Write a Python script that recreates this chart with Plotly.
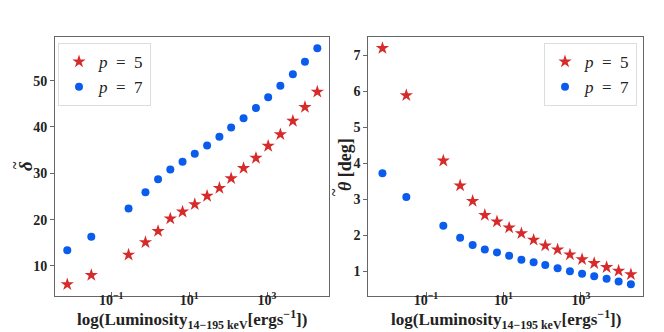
import plotly.graph_objects as go

# Data
lum = [0.0075, 0.031, 0.28, 0.76, 1.6, 3.3, 6.8, 14, 29, 60, 120, 250, 520, 1070, 2200, 4600, 9400, 19500]
delta_p5 = [6.0, 8.0, 12.4, 15.1, 17.5, 20.2, 21.7, 23.3, 25.1, 26.8, 28.9, 31.1, 33.3, 35.9, 38.4, 41.3, 44.3, 47.6]
delta_p7 = [13.4, 16.3, 22.4, 25.9, 28.7, 30.8, 32.5, 34.2, 36.0, 37.9, 39.9, 41.9, 44.1, 46.4, 48.9, 51.4, 54.1, 57.0]
theta_p5 = [7.20, 5.89, 4.07, 3.38, 2.95, 2.56, 2.38, 2.21, 2.05, 1.87, 1.71, 1.60, 1.46, 1.33, 1.22, 1.11, 1.01, 0.91]
theta_p7 = [3.72, 3.06, 2.26, 1.93, 1.73, 1.60, 1.52, 1.43, 1.32, 1.25, 1.17, 1.08, 1.00, 0.93, 0.86, 0.79, 0.71, 0.64]
xtick_vals = [0.1, 10, 1000]
xtick_text = ["<b>10<sup>−1</sup></b>", "<b>10<sup>1</sup></b>", "<b>10<sup>3</sup></b>"]
ytick_left = [10, 20, 30, 40, 50]
ytick_right = [1, 2, 3, 4, 5, 6, 7]
series_names = ["<i>p</i>  =  5", "<i>p</i>  =  7"]

RED = "#d62b2b"
BLUE = "#0a5cec"
FONT = "Liberation Serif"
W, H = 664, 332

def px(x):
    return x / W

def py(y):
    return 1 - y / H

fig = go.Figure()
fig.add_trace(go.Scatter(x=lum, y=delta_p5, mode="markers", name=series_names[0],
                         marker=dict(symbol="star", size=10, color=RED),
                         xaxis="x", yaxis="y", legend="legend"))
fig.add_trace(go.Scatter(x=lum, y=delta_p7, mode="markers", name=series_names[1],
                         marker=dict(symbol="circle", size=8, color=BLUE),
                         xaxis="x", yaxis="y", legend="legend"))
fig.add_trace(go.Scatter(x=lum, y=theta_p5, mode="markers", name=series_names[0],
                         marker=dict(symbol="star", size=10, color=RED),
                         xaxis="x2", yaxis="y2", legend="legend2"))
fig.add_trace(go.Scatter(x=lum, y=theta_p7, mode="markers", name=series_names[1],
                         marker=dict(symbol="circle", size=8, color=BLUE),
                         xaxis="x2", yaxis="y2", legend="legend2"))

ydom = [py(288), py(28.7)]
axis_common = dict(showline=True, linecolor="#666666", linewidth=1, mirror=True,
                   showgrid=False, zeroline=False,
                   tickfont=dict(family=FONT, size=14, color="#222222"),
                   ticklen=4, tickcolor="#666666")

fig.update_layout(
    width=W, height=H, margin=dict(l=0, r=0, t=0, b=0),
    paper_bgcolor="white", plot_bgcolor="white",
    font=dict(family=FONT, color="#222222"),
    xaxis=dict(domain=[px(47), px(321)], anchor="y", type="log", range=[-2.44, 4.59],
               tickvals=xtick_vals, ticktext=xtick_text, ticks="inside",
               ticklabelstandoff=-9, **axis_common),
    yaxis=dict(domain=ydom, anchor="x", range=[3.5, 59.5], tickvals=ytick_left,
               ticktext=["<b>%d</b>" % v for v in ytick_left],
               ticks="outside", **axis_common),
    xaxis2=dict(domain=[px(360.3), px(635.3)], anchor="y2", type="log", range=[-2.49, 4.61],
                tickvals=xtick_vals, ticktext=xtick_text, ticks="inside",
                ticklabelstandoff=-9, **axis_common),
    yaxis2=dict(domain=ydom, anchor="x2", range=[0.31, 7.52], tickvals=ytick_right,
                ticktext=["<b>%d</b>" % v for v in ytick_right],
                ticks="outside", **axis_common),
    legend=dict(x=px(50), y=py(35), xanchor="left", yanchor="top",
                bgcolor="white", bordercolor="#dddddd", borderwidth=1,
                font=dict(family=FONT, size=17, color="#222222"),
                itemwidth=30, tracegroupgap=0),
    legend2=dict(x=px(629), y=py(35), xanchor="right", yanchor="top",
                 bgcolor="white", bordercolor="#dddddd", borderwidth=1,
                 font=dict(family=FONT, size=17, color="#222222"),
                 itemwidth=30, tracegroupgap=0),
    showlegend=True,
)

xlabel = "<b>log(Luminosity<sub>14−195 keV</sub>[ergs<sup>−1</sup>])</b>"
for cx in (184, 497.5):
    fig.add_annotation(xref="paper", yref="paper", showarrow=False,
                       x=px(cx), y=py(311), text=xlabel,
                       xanchor="center", yanchor="middle",
                       font=dict(family=FONT, size=17, color="#222222"))

lab_font = dict(family=FONT, size=19, color="#222222")
# left y label: delta with tilde
fig.add_annotation(xref="paper", yref="paper", x=px(18), y=py(158), showarrow=False,
                   text="<b><i>δ</i></b>", textangle=-90, xanchor="center", yanchor="middle",
                   font=lab_font)
fig.add_annotation(xref="paper", yref="paper", x=px(7), y=py(157), showarrow=False,
                   text="<b>~</b>", textangle=-90, xanchor="center", yanchor="middle",
                   font=dict(family=FONT, size=14, color="#222222"))
# right y label: theta with tilde [deg]
fig.add_annotation(xref="paper", yref="paper", x=px(337), y=py(157), showarrow=False,
                   text="<b><i>θ</i> [deg]</b>", textangle=-90, xanchor="center", yanchor="middle",
                   font=dict(family=FONT, size=18, color="#222222"))
fig.add_annotation(xref="paper", yref="paper", x=px(326), y=py(184), showarrow=False,
                   text="<b>~</b>", textangle=-90, xanchor="center", yanchor="middle",
                   font=dict(family=FONT, size=14, color="#222222"))

fig.write_html("out.html")
